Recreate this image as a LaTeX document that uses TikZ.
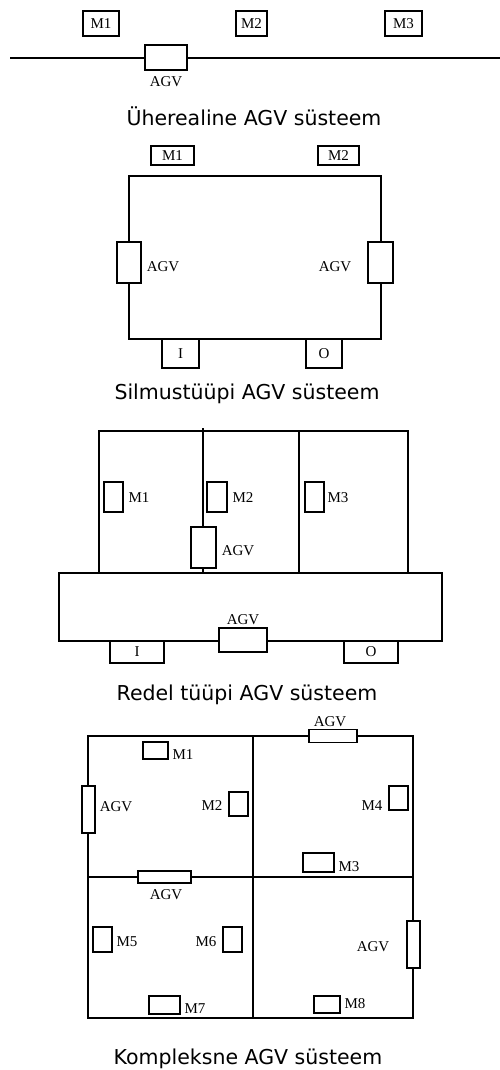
\documentclass[tikz,border=0pt]{standalone}
\usepackage{fontspec}
\newfontfamily\titlefont{DejaVu Sans}
\newfontfamily\labelfont{Liberation Serif}
\begin{document}
\begin{tikzpicture}[x=1pt,y=-1pt,
  track/.style={line width=1.1pt, line join=miter},
  box/.style={draw, line width=1.1pt, fill=white, inner sep=0pt, outer sep=0pt,
     font=\labelfont\fontsize{15}{17}\selectfont, minimum width=#1},
  lbl/.style={inner sep=0pt, font=\labelfont\fontsize{15}{17}\selectfont},
  ttl/.style={inner sep=0pt, font=\titlefont\fontsize{20.5}{23}\selectfont}]
\useasboundingbox (0,0) rectangle (500,1070);

% ---------- Section 1 ----------
\coordinate (s1l) at (10,58);
\coordinate (s1r) at (500,58);
\draw[track] (s1l) -- (s1r);
\node[box=36pt, minimum height=25pt] (a1m1) at (101,23.5) {M1};
\node[box=31pt, minimum height=25pt] (a1m2) at (251.5,23.5) {M2};
\node[box=37pt, minimum height=25pt] (a1m3) at (403.5,23.5) {M3};
\node[box=42pt, minimum height=25pt] (a1agv) at (166,57.5) {};
\node[lbl] (a1agvl) at (166,82) {AGV};
\node[ttl] (t1) at (254,116) {Üherealine AGV süsteem};

% ---------- Section 2 ----------
\coordinate (s2a) at (129,176);
\coordinate (s2b) at (381,339);
\draw[track] (s2a) rectangle (s2b);
\node[box=43pt, minimum height=19pt] (b2m1) at (172.5,155.5) {M1};
\node[box=41pt, minimum height=19pt] (b2m2) at (338.5,155.5) {M2};
\node[box=24pt, minimum height=41pt] (b2agv1) at (129,262.5) {};
\node[lbl] (b2agv1l) at (163,267) {AGV};
\node[box=25pt, minimum height=41pt] (b2agv2) at (380.5,262.5) {};
\node[lbl] (b2agv2l) at (335,267) {AGV};
\node[box=37pt, minimum height=29pt] (b2i) at (180.5,353.5) {I};
\node[box=36pt, minimum height=29pt] (b2o) at (324,353.5) {O};
\node[ttl] (t2) at (247,394) {Silmustüüpi AGV süsteem};

% ---------- Section 3 ----------
\coordinate (c3tl) at (99,431);
\coordinate (c3tr) at (408,431);
\coordinate (c3bl) at (99,573);
\coordinate (c3br) at (408,573);
\coordinate (c3m1t) at (203,428);
\coordinate (c3m1b) at (203,573);
\coordinate (c3m2t) at (299,431);
\coordinate (c3m2b) at (299,573);
\draw[track] (c3bl) -- (c3tl) -- (c3tr) -- (c3br);
\draw[track] (c3m1t) -- (c3m1b);
\draw[track] (c3m2t) -- (c3m2b);
\coordinate (c3la) at (59,573);
\coordinate (c3lb) at (442,641);
\draw[track] (c3la) rectangle (c3lb);
\node[box=19pt, minimum height=30pt] (c3m1) at (113.5,497) {};
\node[lbl] (c3m1l) at (139,498) {M1};
\node[box=20pt, minimum height=30pt] (c3m2) at (217,497) {};
\node[lbl] (c3m2l) at (243,498) {M2};
\node[box=19pt, minimum height=30pt] (c3m3) at (314.5,497) {};
\node[lbl] (c3m3l) at (338,498) {M3};
\node[box=25pt, minimum height=41pt] (c3agv1) at (203.5,547.5) {};
\node[lbl] (c3agv1l) at (238,551) {AGV};
\node[box=54pt, minimum height=22pt] (c3i) at (137,652) {I};
\node[box=48pt, minimum height=24pt] (c3agv2) at (243,640) {};
\node[lbl] (c3agv2l) at (243,620) {AGV};
\node[box=54pt, minimum height=22pt] (c3o) at (371,652) {O};
\node[ttl] (t3) at (247,695) {Redel tüüpi AGV süsteem};

% ---------- Section 4 ----------
\coordinate (d4a) at (88,736);
\coordinate (d4b) at (413,1018);
\coordinate (d4vt) at (253,736);
\coordinate (d4vb) at (253,1018);
\coordinate (d4hl) at (88,877);
\coordinate (d4hr) at (413,877);
\draw[track] (d4a) rectangle (d4b);
\draw[track] (d4vt) -- (d4vb);
\draw[track] (d4hl) -- (d4hr);
\node[box=48pt, minimum height=13pt] (d4agv1) at (333,736) {};
\node[lbl] (d4agv1l) at (330,722) {AGV};
\node[box=25pt, minimum height=17pt] (d4m1) at (155.5,750.5) {};
\node[lbl] (d4m1l) at (183,755) {M1};
\node[box=13pt, minimum height=47pt] (d4agv2) at (88.5,809.5) {};
\node[lbl] (d4agv2l) at (116,807) {AGV};
\node[box=19pt, minimum height=24pt] (d4m2) at (238.5,804) {};
\node[lbl] (d4m2l) at (212,806) {M2};
\node[box=19pt, minimum height=24pt] (d4m4) at (398.5,798) {};
\node[lbl] (d4m4l) at (372,806) {M4};
\node[box=31pt, minimum height=19pt] (d4m3) at (318.5,862.5) {};
\node[lbl] (d4m3l) at (349,867) {M3};
\node[box=53pt, minimum height=12pt] (d4agv3) at (164.5,877) {};
\node[lbl] (d4agv3l) at (166,895) {AGV};
\node[box=19pt, minimum height=25pt] (d4m5) at (102.5,939.5) {};
\node[lbl] (d4m5l) at (127,942) {M5};
\node[box=19pt, minimum height=25pt] (d4m6) at (232.5,939.5) {};
\node[lbl] (d4m6l) at (206,942) {M6};
\node[box=13pt, minimum height=47pt] (d4agv4) at (413.5,944.5) {};
\node[lbl] (d4agv4l) at (373,947) {AGV};
\node[box=31pt, minimum height=18pt] (d4m7) at (164.5,1005) {};
\node[lbl] (d4m7l) at (195,1009) {M7};
\node[box=26pt, minimum height=17pt] (d4m8) at (327,1004.5) {};
\node[lbl] (d4m8l) at (355,1004) {M8};
\node[ttl] (t4) at (248,1059) {Kompleksne AGV süsteem};
\end{tikzpicture}
\end{document}
